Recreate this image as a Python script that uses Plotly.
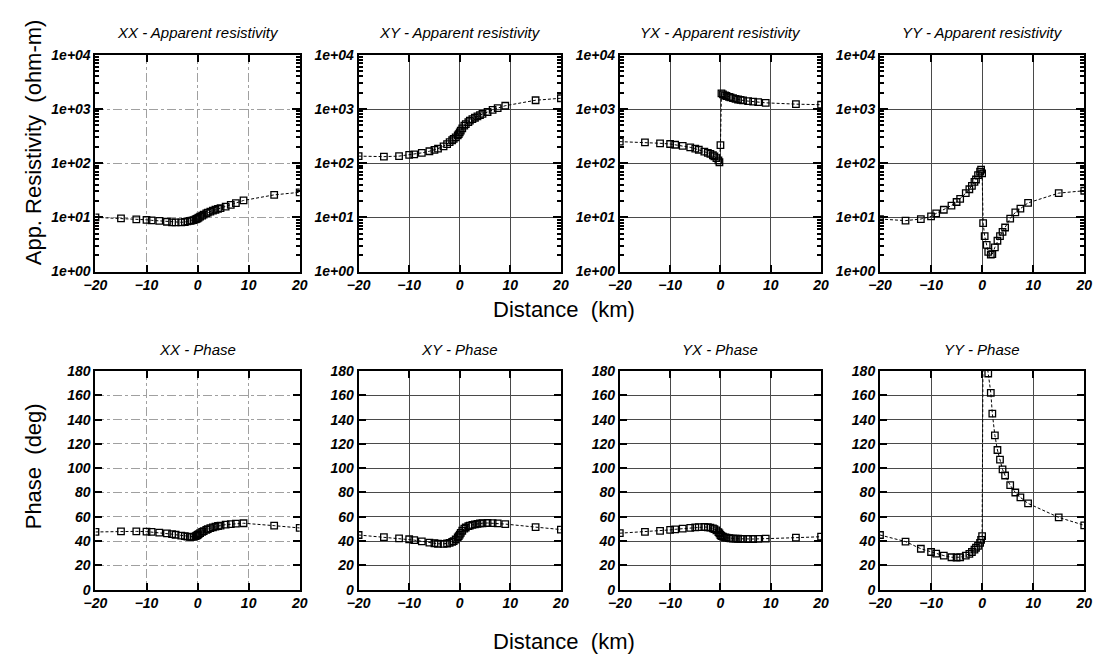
import plotly.graph_objects as go

# ---------------- data ----------------
X = [-20, -15, -12, -10, -9, -7.5, -6, -5, -4.3, -3.2, -2.5, -2, -1.5, -1.2, -0.8, -0.4, -0.2,
     0, 0.2, 0.5, 0.9, 1.2, 1.7, 2, 2.5, 3, 3.5, 4, 4.5, 5.5, 6.5, 7.5, 9, 15, 20]

rho_xx = [10, 9.6, 9.2, 9.0, 8.8, 8.6, 8.3, 8.1, 8.1, 8.1, 8.2, 8.4, 8.6, 8.7, 8.9, 9.2, 9.4,
          9.6, 9.9, 10.3, 10.8, 11.2, 11.8, 12.2, 12.8, 13.3, 13.8, 14.3, 14.8, 15.8, 17, 18.3, 20.5, 26, 29]
rho_xy = [135, 132, 135, 142, 146, 155, 166, 176, 186, 205, 225, 245, 265, 280, 300, 325, 345,
          370, 400, 440, 495, 525, 575, 610, 650, 690, 730, 770, 810, 880, 960, 1040, 1150, 1450, 1580]
rho_yx = [250, 243, 233, 226, 219, 208, 196, 185, 177, 163, 155, 148, 140, 133, 124, 113, 104,
          215, 1950, 1870, 1790, 1740, 1680, 1640, 1590, 1540, 1500, 1470, 1440, 1400, 1370, 1340, 1300, 1230, 1200]
rho_yy = [9.3, 8.7, 9.3, 10.4, 11.8, 13.8, 16.5, 19.2, 22, 28, 33, 38, 45, 50, 60, 70, 76,
          65, 7.8, 4.5, 3.1, 2.3, 2.05, 2.1, 2.8, 3.7, 4.5, 5.4, 6.5, 9.5, 12.3, 14.5, 18.5, 28, 31]

phs_xx = [47.5, 48, 48, 47.8, 47.5, 47, 46.3, 45.7, 45.2, 44.5, 44, 43.7, 43.5, 43.4, 43.5, 44, 44.5,
          45, 45.8, 46.6, 47.5, 48.2, 49.2, 49.8, 50.6, 51.3, 51.9, 52.4, 52.8, 53.5, 54, 54.4, 54.7, 52.7, 50.8]
phs_xy = [45, 43.2, 42.3, 41.5, 40.8, 39.8, 38.8, 38.2, 37.8, 37.7, 38, 38.5, 39.3, 40, 41.3, 43, 44,
          45.3, 46.8, 48.5, 50.2, 51.2, 52.3, 52.8, 53.4, 53.8, 54.2, 54.5, 54.7, 54.9, 54.8, 54.5, 54, 51.5, 49.5]
phs_yx = [46.5, 47.6, 48.4, 49.2, 49.7, 50.3, 50.9, 51.3, 51.5, 51.6, 51.4, 51, 50.4, 49.8, 48.8, 47.3, 46.3,
          45, 44.2, 43.6, 43.1, 42.8, 42.5, 42.3, 42.1, 42, 41.9, 41.8, 41.8, 41.7, 41.7, 41.8, 42.1, 42.8, 43.6]
phs_yy = [45, 39.6, 33.7, 31, 29.7, 28, 26.7, 26.5, 26.7, 28, 29.5, 31, 33, 34.5, 36, 38.5, 41,
          44, 215, 200, 186, 178, 162, 145, 127, 115, 107, 99, 94, 86, 80, 76, 71, 59.5, 53]

rho_titles = ["XX - Apparent resistivity", "XY - Apparent resistivity",
              "YX - Apparent resistivity", "YY - Apparent resistivity"]
phs_titles = ["XX - Phase", "XY - Phase", "YX - Phase", "YY - Phase"]
x_ticks = [-20, -10, 0, 10, 20]
rho_ticks = [1, 10, 100, 1000, 10000]
rho_ticktext = ["1e+00", "1e+01", "1e+02", "1e+03", "1e+04"]
rho_minor = [m * d for d in [1, 10, 100, 1000] for m in range(2, 10)]
phs_ticks = [0, 20, 40, 60, 80, 100, 120, 140, 160, 180]

# ---------------- layout ----------------
W, H = 1105, 665
col_px = [(85, 293), (353, 559), (619, 824), (884, 1092)]
row_px = [(48, 270), (372, 596)]

FONT = "Arial, Liberation Sans, Helvetica, sans-serif"
tickfont = dict(family=FONT, size=14, color="black", weight="bold", style="italic")

fig = go.Figure()
layout = dict(width=W, height=H, margin=dict(l=0, r=0, t=0, b=0),
              paper_bgcolor="white", plot_bgcolor="white", showlegend=False)
annotations = []

rho_all = [rho_xx, rho_xy, rho_yx, rho_yy]
phs_all = [phs_xx, phs_xy, phs_yx, phs_yy]

idx = 0
for r in range(2):
    for c in range(4):
        idx += 1
        xa = "x" if idx == 1 else f"x{idx}"
        ya = "y" if idx == 1 else f"y{idx}"
        yvals = rho_all[c] if r == 0 else phs_all[c]
        fig.add_trace(go.Scatter(
            x=X, y=yvals, mode="lines+markers", xaxis=xa, yaxis=ya,
            line=dict(color="black", width=1, dash="3px,2px"),
            marker=dict(symbol="square-open", size=6.5, color="black", line=dict(width=1.3, color="black")),
        ))
        x0, x1 = col_px[c]
        y0, y1 = row_px[r]
        faint = (c == 0)
        gridcolor = "#a0a0a0" if faint else "#4a4a4a"
        griddash = "dashdot" if faint else "solid"
        xkey = "xaxis" if idx == 1 else f"xaxis{idx}"
        ykey = "yaxis" if idx == 1 else f"yaxis{idx}"
        layout[xkey] = dict(
            domain=[x0 / W, x1 / W], anchor=ya, range=[-20, 20],
            tickvals=x_ticks, ticks="inside", ticklen=7, tickwidth=2, tickcolor="black",
            showline=True, linecolor="black", linewidth=2, mirror="allticks",
            showgrid=True, gridcolor=gridcolor, gridwidth=1, griddash=griddash,
            zeroline=False, tickfont=tickfont,
        )
        if r == 0:
            layout[ykey] = dict(
                domain=[1 - y1 / H, 1 - y0 / H], anchor=xa, type="log", range=[0, 4],
                tickvals=rho_ticks, ticktext=rho_ticktext,
                ticks="inside", ticklen=8, tickwidth=2, tickcolor="black",
                minor=dict(tickvals=rho_minor, ticks="inside", ticklen=4, tickwidth=1.5,
                           tickcolor="black", showgrid=False),
                showline=True, linecolor="black", linewidth=2, mirror="allticks",
                showgrid=True, gridcolor=gridcolor, gridwidth=1, griddash=griddash,
                zeroline=False, tickfont=tickfont,
            )
            title = rho_titles[c]
            ty = y0 - 23
        else:
            layout[ykey] = dict(
                domain=[1 - y1 / H, 1 - y0 / H], anchor=xa, range=[0, 180],
                tickvals=phs_ticks, ticks="inside", ticklen=7, tickwidth=2, tickcolor="black",
                showline=True, linecolor="black", linewidth=2, mirror="allticks",
                showgrid=True, gridcolor=gridcolor, gridwidth=1, griddash=griddash,
                zeroline=False, tickfont=tickfont,
            )
            title = phs_titles[c]
            ty = y0 - 22
        annotations.append(dict(
            text=title, xref="paper", yref="paper",
            x=(x0 + x1) / 2 / W, y=1 - ty / H, xanchor="center", yanchor="middle",
            showarrow=False, font=dict(family=FONT, size=15, color="black", style="italic"),
        ))

annotations += [
    dict(text="App. Resistivity  (ohm-m)", xref="paper", yref="paper", x=22 / W, y=1 - 138 / H,
         textangle=-90, showarrow=False, xanchor="center", yanchor="middle",
         font=dict(family=FONT, size=22, color="black")),
    dict(text="Phase  (deg)", xref="paper", yref="paper", x=22 / W, y=1 - 470 / H,
         textangle=-90, showarrow=False, xanchor="center", yanchor="middle",
         font=dict(family=FONT, size=22, color="black")),
    dict(text="Distance  (km)", xref="paper", yref="paper", x=562 / W, y=1 - 309 / H,
         showarrow=False, xanchor="center", yanchor="middle",
         font=dict(family=FONT, size=22, color="black")),
    dict(text="Distance  (km)", xref="paper", yref="paper", x=562 / W, y=1 - 649 / H,
         showarrow=False, xanchor="center", yanchor="middle",
         font=dict(family=FONT, size=22, color="black")),
]
layout["annotations"] = annotations
fig.update_layout(**layout)
fig.write_html("out.html")
